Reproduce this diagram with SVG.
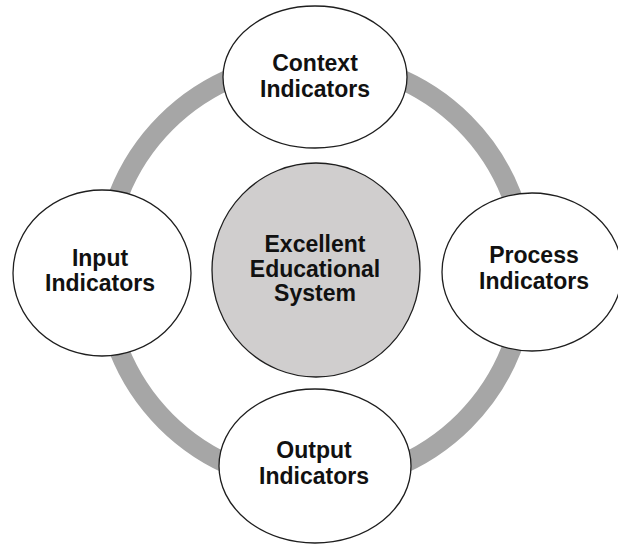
<svg xmlns="http://www.w3.org/2000/svg" width="618" height="544" viewBox="0 0 618 544">
<style>
.node{fill:#ffffff;stroke:#1e1e1e;stroke-width:1.3}
.core{fill:#d0cece;stroke:#1e1e1e;stroke-width:1.3}
.ring{fill:none;stroke:#a6a6a6;stroke-width:20}
text{font-family:"Liberation Sans",Arial,sans-serif;font-weight:bold;font-size:23px;fill:#111111;text-anchor:middle}
</style>
<rect width="618" height="544" fill="#ffffff"/>
<g id="connectors">
<circle class="ring" cx="315" cy="272" r="211"/>
</g>
<g id="context">
<ellipse class="node" cx="315" cy="77" rx="92" ry="71"/>
<text x="315" y="71">Context</text>
<text x="315" y="97">Indicators</text>
</g>
<g id="input">
<ellipse class="node" cx="102" cy="273" rx="89" ry="83"/>
<text x="100" y="266">Input</text>
<text x="100" y="291">Indicators</text>
</g>
<g id="process">
<ellipse class="node" cx="532" cy="272" rx="90" ry="79"/>
<text x="534" y="263">Process</text>
<text x="534" y="289">Indicators</text>
</g>
<g id="output">
<ellipse class="node" cx="315" cy="466" rx="96" ry="77"/>
<text x="314" y="458">Output</text>
<text x="314" y="484">Indicators</text>
</g>
<g id="center">
<ellipse class="core" cx="316" cy="270" rx="104" ry="107"/>
<text x="315" y="252">Excellent</text>
<text x="315" y="277">Educational</text>
<text x="315" y="301">System</text>
</g>
</svg>
